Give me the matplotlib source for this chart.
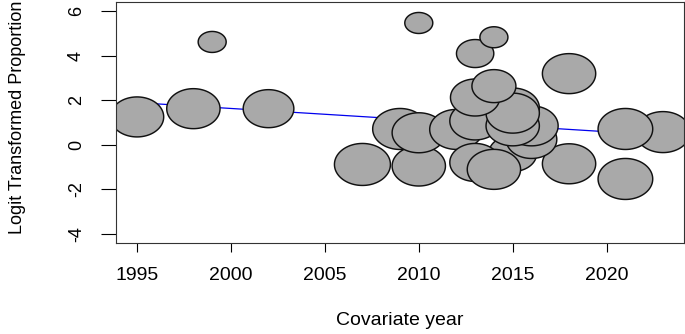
import numpy as np
import matplotlib
matplotlib.use("Agg")
import matplotlib.pyplot as plt
from matplotlib.path import Path

# study points (year, logit proportion, bubble size ~ weight), drawn in this order
years = [1995, 1998, 1999, 2002, 2007, 2009, 2010, 2010, 2010, 2012,
         2013, 2014, 2018, 2018, 2023, 2021, 2021,
         2015, 2013, 2014, 2016, 2016, 2013, 2015, 2015, 2015, 2013, 2014]
logit_prop = [1.25, 1.62, 4.61, 1.62, -0.88, 0.71, -0.95, 0.54, 5.46, 0.69,
              4.09, 4.82, 3.19, -0.85, 0.57, 0.71, -1.53,
              -0.39, -0.79, -1.10, 0.24, 0.85, 1.07, 0.85, 1.65, 1.42, 2.12, 2.63]
weights = [40, 40, 21, 38, 42, 41, 40, 40, 21, 40,
           28, 21, 40, 40, 41, 41, 41,
           36, 38, 40, 38, 40, 38, 40, 40, 40, 37, 33]

# meta-regression fitted line
fit_years = [1995, 2023]
fit_values = [1.89, 0.43]

x_ticks = [1995, 2000, 2005, 2010, 2015, 2020]
y_ticks = [-4, -2, 0, 2, 4, 6]

plt.rcParams["font.family"] = ["Liberation Sans", "DejaVu Sans"]

fig = plt.figure(figsize=(6.85, 3.34), dpi=100)
ax = fig.add_axes([116 / 685, 91 / 334, 568 / 685, 241 / 334])

ax.plot(fit_years, fit_values, color="#0000ee", linewidth=0.9, zorder=1)

# R output was horizontally stretched, so bubbles are slightly wide ellipses
t = np.linspace(0, 2 * np.pi, 120)
ellipse = Path(np.column_stack([1.333 * np.cos(t), np.sin(t)]), closed=True)
sizes = [(w * 1.333 * 0.72) ** 2 for w in weights]
ax.scatter(years, logit_prop, s=sizes, marker=ellipse, facecolor="#a9a9a9",
           edgecolor="#111111", linewidths=1.05, zorder=2)

ax.set_xlim(1993.88, 2024.12)
ax.set_ylim(-4.4, 6.4)
ax.set_xticks(x_ticks)
ax.set_xticklabels([str(v) for v in x_ticks], fontsize=14)
ax.set_yticks(y_ticks)
ax.set_yticklabels([str(v) for v in y_ticks], fontsize=13, rotation=90, va="center")

ax.tick_params(axis="x", direction="out", length=6.5, width=0.8, pad=11)
ax.tick_params(axis="y", direction="out", length=10.5, width=0.8, pad=12)
for sp in ax.spines.values():
    sp.set_linewidth(0.8)
    sp.set_color("#333333")

ax.set_xlabel("Covariate year", fontsize=14, va="top")
ax.xaxis.set_label_coords(0.5, -0.285)
ax.set_ylabel("Logit Transformed Proportion", fontsize=13, va="bottom")
ax.yaxis.set_label_coords(-0.158, 0.52)

fig.savefig("out.png", dpi=100)
